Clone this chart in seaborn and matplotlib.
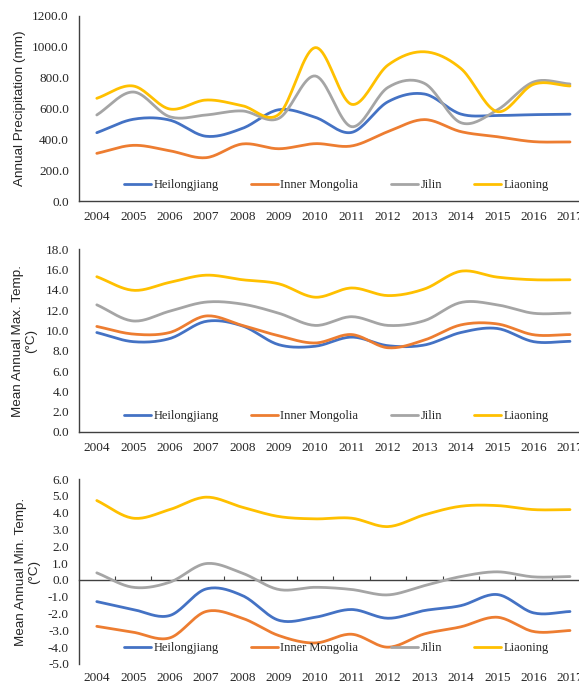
import numpy as np
import pandas as pd
import matplotlib
matplotlib.use("Agg")
import matplotlib.pyplot as plt
from matplotlib.lines import Line2D
import seaborn as sns

# ---------------- data ----------------
years = [2004, 2005, 2006, 2007, 2008, 2009, 2010, 2011, 2012, 2013, 2014, 2015, 2016, 2017]
provinces = ["Heilongjiang", "Inner Mongolia", "Jilin", "Liaoning"]

precip_heilongjiang = [443, 530, 525, 420, 471, 592, 543, 445, 644, 694, 564, 555, 560, 563]
precip_inner_mongolia = [309, 361, 326, 281, 370, 339, 372, 357, 450, 528, 450, 417, 385, 383]
precip_jilin = [558, 707, 547, 558, 584, 536, 811, 482, 737, 763, 508, 590, 772, 759]
precip_liaoning = [666, 746, 597, 655, 618, 562, 995, 627, 882, 968, 860, 580, 757, 746]

tmax_heilongjiang = [9.8, 8.9, 9.2, 10.9, 10.45, 8.6, 8.45, 9.35, 8.5, 8.57, 9.8, 10.2, 8.9, 8.93]
tmax_inner_mongolia = [10.4, 9.65, 9.8, 11.43, 10.5, 9.48, 8.77, 9.6, 8.3, 9.06, 10.55, 10.65, 9.58, 9.6]
tmax_jilin = [12.53, 10.94, 11.9, 12.8, 12.6, 11.7, 10.5, 11.36, 10.5, 10.97, 12.76, 12.53, 11.7, 11.72]
tmax_liaoning = [15.3, 13.96, 14.74, 15.45, 15.0, 14.6, 13.28, 14.19, 13.44, 14.09, 15.84, 15.26, 15.0, 15.0]

tmin_heilongjiang = [-1.29, -1.76, -2.12, -0.54, -0.93, -2.4, -2.22, -1.76, -2.28, -1.82, -1.53, -0.87, -1.96, -1.88]
tmin_inner_mongolia = [-2.76, -3.11, -3.45, -1.88, -2.28, -3.31, -3.75, -3.23, -4.0, -3.21, -2.79, -2.22, -3.07, -3.01]
tmin_jilin = [0.42, -0.44, -0.14, 0.97, 0.4, -0.57, -0.44, -0.57, -0.89, -0.34, 0.2, 0.48, 0.18, 0.2]
tmin_liaoning = [4.72, 3.67, 4.18, 4.92, 4.32, 3.77, 3.63, 3.67, 3.17, 3.87, 4.38, 4.42, 4.18, 4.18]

colors = ["#4472C4", "#ED7D31", "#A5A5A5", "#FFC000"]

panels = [
    dict(series=[precip_heilongjiang, precip_inner_mongolia, precip_jilin, precip_liaoning],
         ylabel="Annual Precipitation (mm)", ylim=(0, 1200), step=200,
         rect=(78.6, 16, 201), labx=20, zero_axis=False),
    dict(series=[tmax_heilongjiang, tmax_inner_mongolia, tmax_jilin, tmax_liaoning],
         ylabel="Mean Annual Max. Temp.\n(°C)", ylim=(0, 18), step=2,
         rect=(78.6, 249.3, 432), labx=24.5, zero_axis=False),
    dict(series=[tmin_heilongjiang, tmin_inner_mongolia, tmin_jilin, tmin_liaoning],
         ylabel="Mean Annual Min. Temp.\n(°C)", ylim=(-5, 6), step=1,
         rect=(78.6, 479, 664), labx=27.5, zero_axis=True),
]


def smooth(y, n=20):
    """Excel-like smoothed line (cubic Hermite / Catmull-Rom through the points)."""
    y = np.asarray(y, float)
    k = len(y)
    m = np.zeros(k)
    m[1:-1] = (y[2:] - y[:-2]) / 2.0
    m[0] = y[1] - y[0]
    m[-1] = y[-1] - y[-2]
    xs, ys = [], []
    for i in range(k - 1):
        t = np.linspace(0, 1, n, endpoint=(i == k - 2))
        h00 = 2 * t**3 - 3 * t**2 + 1
        h10 = t**3 - 2 * t**2 + t
        h01 = -2 * t**3 + 3 * t**2
        h11 = t**3 - t**2
        xs.append(i + t)
        ys.append(h00 * y[i] + h10 * m[i] + h01 * y[i + 1] + h11 * m[i + 1])
    return np.concatenate(xs), np.concatenate(ys)


sns.set_style("white")
plt.rcParams["font.family"] = ["Liberation Serif", "DejaVu Serif"]

W, H = 579, 682
fig = plt.figure(figsize=(W / 100, H / 100), dpi=100)

cat_w = 36.4
n = len(years)
spine_col = "#404040"
LW = 2.0

for p in panels:
    left, top, bottom = p["rect"]
    ax = fig.add_axes([left / W, 1 - bottom / H, n * cat_w / W, (bottom - top) / H])

    rows = []
    for prov, vals in zip(provinces, p["series"]):
        xs, ys = smooth(vals)
        rows.append(pd.DataFrame({"x": xs, "value": ys, "province": prov}))
    df = pd.concat(rows, ignore_index=True)
    sns.lineplot(data=df, x="x", y="value", hue="province", hue_order=provinces,
                 palette=colors, estimator=None, sort=False, linewidth=LW,
                 legend=False, ax=ax)

    ax.set_xlim(-0.5, n - 0.5)
    lo, hi = p["ylim"]
    ax.set_ylim(lo, hi)
    yt = np.arange(lo, hi + p["step"] / 2, p["step"])
    ax.set_yticks(yt)
    ax.set_yticklabels([f"{v:.1f}" for v in yt], fontsize=9.5)
    ax.set_xticks(range(n))
    ax.set_xticklabels([str(y) for y in years], fontsize=9.5)
    ax.set_xlabel("")
    ax.set_ylabel("")

    for s in ["top", "right"]:
        ax.spines[s].set_visible(False)
    ax.spines["left"].set_color(spine_col)
    ax.spines["left"].set_linewidth(1.0)
    ax.tick_params(axis="y", direction="out", length=3, width=0.8, color=spine_col, pad=4)
    ax.tick_params(axis="x", which="major", length=0, pad=7)

    if p["zero_axis"]:
        ax.spines["bottom"].set_visible(False)
        frac = (0 - lo) / (hi - lo)
        sec = ax.secondary_xaxis(frac)
        sec.set_xticks(np.arange(0.5, n - 1, 1.0))
        sec.set_xticklabels([])
        sec.tick_params(direction="in", length=3, width=0.8, color=spine_col)
        sec.spines["bottom"].set_color(spine_col)
        sec.spines["bottom"].set_linewidth(1.0)
        for s in ["top", "left", "right"]:
            sec.spines[s].set_visible(False)
        ax.tick_params(axis="x", which="major", pad=6)
    else:
        ax.spines["bottom"].set_color(spine_col)
        ax.spines["bottom"].set_linewidth(1.0)
        ax.set_xticks(np.arange(0.5, n - 1, 1.0), minor=True)
        ax.tick_params(axis="x", which="minor", direction="in", length=3, width=0.8,
                       color=spine_col)

    ax.grid(False)

    ax.text((p["labx"] - left) / (n * cat_w), 0.5, p["ylabel"], transform=ax.transAxes,
            rotation=90, ha="center", va="center", multialignment="center",
            fontsize=9.7, family=["Liberation Sans", "DejaVu Sans"], linespacing=1.15)

    handles = [Line2D([], [], color=c, lw=LW) for c in colors]
    ax.legend(handles, provinces, loc="center", bbox_to_anchor=(0.506, 0.086), ncol=4,
              frameon=False, fontsize=9, handlelength=2.15, handletextpad=0.2,
              columnspacing=2.6, borderaxespad=0, borderpad=0)

fig.savefig("out.png", dpi=100)
